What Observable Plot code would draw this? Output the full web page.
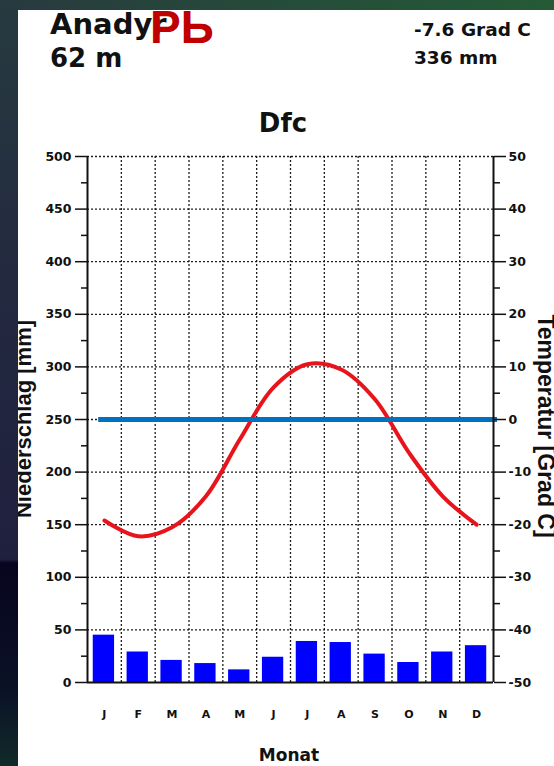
<!DOCTYPE html>
<html><head><meta charset="utf-8">
<script src="https://cdn.jsdelivr.net/npm/d3@7"></script>
<script src="https://cdn.jsdelivr.net/npm/@observablehq/plot@0.6"></script>
<style>
html,body{margin:0;padding:0;}
body{width:554px;height:766px;position:relative;overflow:hidden;background:#fff;font-family:"Liberation Sans",Arial,sans-serif;}
.t{position:absolute;white-space:nowrap;line-height:1;font-weight:bold;color:#111;z-index:3;}
.dv{font-family:"DejaVu Sans",sans-serif;}
#stripLeft{position:absolute;left:0;top:0;width:18px;height:766px;z-index:6;
  background:linear-gradient(to bottom,#273a3f 0%,#232a40 35%,#1f203e 73%,#08041f 73.5%,#0a1226 90%,#112a2a 100%);}
#stripTop{position:absolute;left:0;top:0;width:554px;height:10px;z-index:6;
  background:linear-gradient(to right,#28393f 0%,#26483b 40%,#245a36 100%);}
#chart{position:absolute;left:0;top:0;z-index:2;}
</style></head><body>
<div id="stripLeft"></div><div id="stripTop"></div>
<div class="t dv" style="left:50px;top:10px;font-size:29px;">Anadyr</div>
<div class="t" style="left:150px;top:4px;font-size:46px;color:#c00000;z-index:4;">РЬ</div>
<div class="t dv" style="left:50px;top:45px;font-size:26px;">62 m</div>
<div class="t dv" style="left:414px;top:21px;font-size:18.5px;">-7.6 Grad C</div>
<div class="t dv" style="left:414px;top:49px;font-size:18.5px;">336 mm</div>
<div class="t dv" style="left:183px;width:200px;text-align:center;top:110px;font-size:26px;">Dfc</div>
<div class="t" style="left:13.4px;top:539px;width:240px;text-align:center;font-size:22px;transform-origin:0 0;transform:rotate(-90deg);">Niederschlag [mm]</div>
<div class="t" style="left:556.5px;top:296px;width:260px;text-align:center;font-size:23px;transform-origin:0 0;transform:rotate(90deg);">Temperatur [Grad C]</div>
<div class="t dv" style="left:189px;width:200px;text-align:center;top:747px;font-size:17px;">Monat</div>
<div id="chart"></div>
<script>
const months = ["J","F","M","A","M","J","J","A","S","O","N","D"];
const precip = [45,29,21,18,12,24,39,38,27,19,29,35];
const temp = [-19.2,-22.2,-20.5,-14.6,-3.8,6.1,10.5,9.5,3.8,-6.3,-14.6,-20.0];
const precipTicks = [0,50,100,150,200,250,300,350,400,450,500];
const precipMinorTicks = [25,75,125,175,225,275,325,375,425,475];
const tempTicks = [-50,-40,-30,-20,-10,0,10,20,30,40,50];
const zeroLine = [0];
const barStart = 0.17, barEnd = 0.8;
const zeroLineFrom = 0.33, zeroLineTo = 12.12;

const toMm = t => (t + 50) * 5;
const data = months.map((m, i) => ({i, m, p: precip[i], t: temp[i]}));
const gridStyle = {stroke:"#111", strokeOpacity:0.95, strokeDasharray:"2,2", strokeWidth:1.3};

const chart = Plot.plot({
  width: 554, height: 766,
  marginLeft: 87, marginRight: 61, marginTop: 156, marginBottom: 84,
  style: {background:"transparent", fontFamily:"DejaVu Sans, sans-serif", fontWeight:"bold", color:"#111", overflow:"visible"},
  x: {type:"linear", domain:[0,12]},
  y: {type:"linear", domain:[0,500]},
  marks: [
    Plot.gridY(precipTicks.filter(d => d > 0), gridStyle),
    Plot.gridX(d3.range(1,12), gridStyle),
    Plot.rectY(data, {x1: d => d.i + barStart, x2: d => d.i + barEnd, y: "p", fill:"#0000ff"}),
    Plot.line(data, {x: d => d.i + 0.5, y: d => toMm(d.t), stroke:"#e8141b", strokeWidth:4, curve:"catmull-rom"}),
    Plot.ruleY(zeroLine, {y: toMm, x1: zeroLineFrom, x2: zeroLineTo, stroke:"#0070c0", strokeWidth:5}),
    Plot.ruleX([0,12], {stroke:"#111", strokeWidth:2}),
    Plot.ruleY([0], {stroke:"#111", strokeWidth:2}),
    Plot.axisY(precipTicks, {anchor:"left", tickSize:12, tickPadding:4, fontSize:12.5, strokeWidth:1.5, label:null}),
    Plot.axisY(precipMinorTicks, {anchor:"left", tickSize:6, tickFormat: () => "", strokeWidth:1.5, label:null}),
    Plot.axisY(tempTicks.map(toMm), {anchor:"right", tickSize:12, tickPadding:3, fontSize:12.5, strokeWidth:1.5, label:null,
      tickFormat: d => String(Math.round(d / 5 - 50))}),
    Plot.axisY(precipMinorTicks, {anchor:"right", tickSize:6, tickFormat: () => "", strokeWidth:1.5, label:null}),
    Plot.axisX(d3.range(12).map(i => i + 0.5), {anchor:"bottom", tickSize:0, tickPadding:28, fontSize:11, label:null,
      tickFormat: d => months[Math.floor(d)]})
  ]
});
document.getElementById("chart").appendChild(chart);
</script>
</body></html>
